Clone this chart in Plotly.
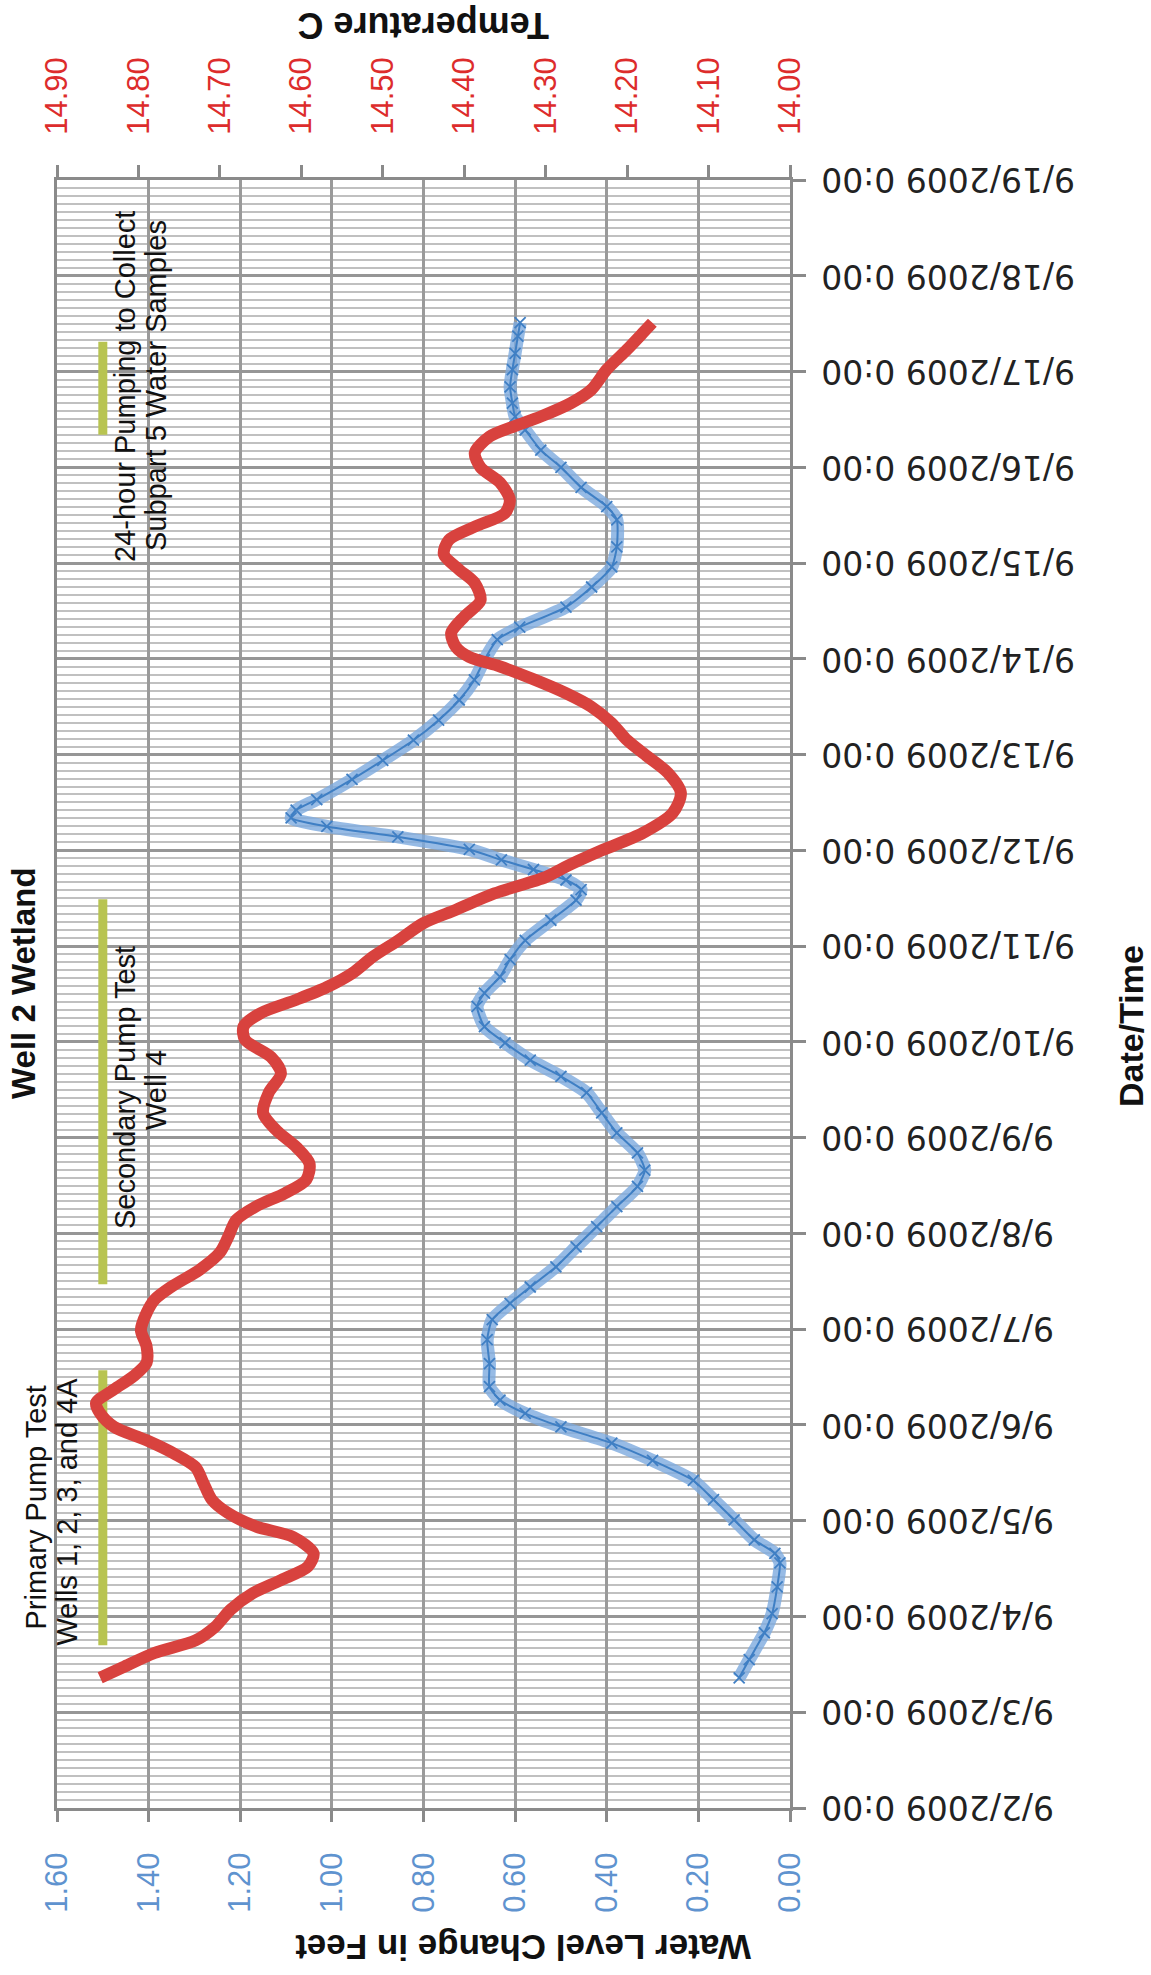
import plotly.graph_objects as go

# ---------------- data ----------------
temp_time = [
    "2009-09-03 08:38", "2009-09-03 11:17", "2009-09-03 14:53", "2009-09-03 18:00", "2009-09-03 21:22",
    "2009-09-04 01:41", "2009-09-04 05:46", "2009-09-04 09:07", "2009-09-04 12:29", "2009-09-04 15:50",
    "2009-09-04 19:55", "2009-09-04 22:34", "2009-09-05 01:55", "2009-09-05 05:17", "2009-09-05 09:22",
    "2009-09-05 13:26", "2009-09-05 16:48", "2009-09-05 20:10", "2009-09-05 23:31", "2009-09-06 02:53",
    "2009-09-06 05:31", "2009-09-06 08:53", "2009-09-06 12:14", "2009-09-06 15:36", "2009-09-06 19:41",
    "2009-09-06 23:46", "2009-09-07 04:05", "2009-09-07 07:26", "2009-09-07 10:34", "2009-09-07 14:53",
    "2009-09-07 19:12", "2009-09-07 23:02", "2009-09-08 03:22", "2009-09-08 06:43", "2009-09-08 10:05",
    "2009-09-08 13:26", "2009-09-08 17:31", "2009-09-08 21:36", "2009-09-09 01:55", "2009-09-09 06:14",
    "2009-09-09 11:17", "2009-09-09 16:05", "2009-09-09 20:10", "2009-09-10 00:29", "2009-09-10 03:50",
    "2009-09-10 07:12", "2009-09-10 10:34", "2009-09-10 13:41", "2009-09-10 17:17", "2009-09-10 21:22",
    "2009-09-11 01:26", "2009-09-11 05:46", "2009-09-11 09:07", "2009-09-11 13:12", "2009-09-11 17:17",
    "2009-09-11 19:55", "2009-09-12 00:00", "2009-09-12 04:19", "2009-09-12 09:22", "2009-09-12 14:24",
    "2009-09-12 19:26", "2009-09-12 23:31", "2009-09-13 03:36", "2009-09-13 07:55", "2009-09-13 12:00",
    "2009-09-13 15:22", "2009-09-13 18:43", "2009-09-13 22:05", "2009-09-14 00:29", "2009-09-14 02:53",
    "2009-09-14 06:29", "2009-09-14 10:34", "2009-09-14 14:38", "2009-09-14 18:58", "2009-09-14 22:19",
    "2009-09-15 02:10", "2009-09-15 05:46", "2009-09-15 09:07", "2009-09-15 12:29", "2009-09-15 15:50",
    "2009-09-15 20:10", "2009-09-16 00:00", "2009-09-16 03:36", "2009-09-16 07:41", "2009-09-16 10:19",
    "2009-09-16 12:43", "2009-09-16 16:05", "2009-09-16 19:26", "2009-09-17 00:29", "2009-09-17 05:31",
    "2009-09-17 09:36", "2009-09-17 12:14",
]
temp_vals = [
    14.847, 14.819, 14.780, 14.730, 14.706,
    14.687, 14.660, 14.625, 14.592, 14.585,
    14.610, 14.656, 14.690, 14.710, 14.720,
    14.730, 14.756, 14.790, 14.830, 14.847,
    14.852, 14.830, 14.806, 14.790, 14.790,
    14.797, 14.790, 14.780, 14.760, 14.725,
    14.700, 14.690, 14.680, 14.656, 14.620,
    14.594, 14.590, 14.606, 14.631, 14.647,
    14.640, 14.625, 14.637, 14.669, 14.671,
    14.650, 14.606, 14.569, 14.537, 14.512,
    14.481, 14.450, 14.410, 14.363, 14.300,
    14.275, 14.231, 14.181, 14.144, 14.134,
    14.150, 14.175, 14.200, 14.219, 14.244,
    14.275, 14.313, 14.356, 14.394, 14.410,
    14.416, 14.400, 14.380, 14.387, 14.406,
    14.425, 14.419, 14.387, 14.350, 14.344,
    14.356, 14.380, 14.387, 14.369, 14.338,
    14.306, 14.269, 14.244, 14.225, 14.200,
    14.181, 14.169,
]

level_time = [
    "2009-09-03 08:38", "2009-09-03 13:12", "2009-09-03 19:55", "2009-09-04 00:43", "2009-09-04 07:26",
    "2009-09-04 13:26", "2009-09-04 15:50", "2009-09-04 19:12", "2009-09-05 00:14", "2009-09-05 05:17",
    "2009-09-05 10:05", "2009-09-05 15:07", "2009-09-05 19:26", "2009-09-05 23:31", "2009-09-06 02:53",
    "2009-09-06 06:14", "2009-09-06 09:36", "2009-09-06 15:22", "2009-09-06 21:22", "2009-09-07 02:24",
    "2009-09-07 06:29", "2009-09-07 10:34", "2009-09-07 15:36", "2009-09-07 20:38", "2009-09-08 01:41",
    "2009-09-08 06:43", "2009-09-08 11:46", "2009-09-08 15:50", "2009-09-08 20:10", "2009-09-09 01:12",
    "2009-09-09 06:14", "2009-09-09 11:17", "2009-09-09 15:22", "2009-09-09 19:26", "2009-09-09 23:46",
    "2009-09-10 03:50", "2009-09-10 08:53", "2009-09-10 12:14", "2009-09-10 16:19", "2009-09-10 20:38",
    "2009-09-11 01:26", "2009-09-11 06:29", "2009-09-11 11:31", "2009-09-11 14:10", "2009-09-11 16:34",
    "2009-09-11 19:12", "2009-09-11 21:36", "2009-09-12 00:14", "2009-09-12 03:22", "2009-09-12 06:00",
    "2009-09-12 08:10", "2009-09-12 10:05", "2009-09-12 12:43", "2009-09-12 17:46", "2009-09-12 22:34",
    "2009-09-13 03:36", "2009-09-13 08:38", "2009-09-13 13:41", "2009-09-13 18:43", "2009-09-13 23:46",
    "2009-09-14 04:48", "2009-09-14 07:55", "2009-09-14 12:58", "2009-09-14 18:00", "2009-09-14 23:02",
    "2009-09-15 04:05", "2009-09-15 10:48", "2009-09-15 14:10", "2009-09-15 18:58", "2009-09-16 00:00",
    "2009-09-16 04:19", "2009-09-16 09:22", "2009-09-16 12:43", "2009-09-16 16:05", "2009-09-16 20:10",
    "2009-09-17 00:29", "2009-09-17 04:34", "2009-09-17 08:53", "2009-09-17 12:14",
]
level_vals = [
    0.111, 0.089, 0.056, 0.039, 0.028,
    0.022, 0.033, 0.078, 0.122, 0.167,
    0.211, 0.300, 0.389, 0.500, 0.578,
    0.633, 0.656, 0.656, 0.661, 0.650,
    0.611, 0.567, 0.511, 0.467, 0.422,
    0.378, 0.333, 0.317, 0.333, 0.378,
    0.411, 0.444, 0.500, 0.567, 0.622,
    0.667, 0.683, 0.667, 0.633, 0.611,
    0.578, 0.522, 0.467, 0.456, 0.489,
    0.560, 0.630, 0.700, 0.856, 1.011,
    1.089, 1.078, 1.033, 0.956, 0.889,
    0.822, 0.767, 0.722, 0.689, 0.667,
    0.639, 0.590, 0.489, 0.433, 0.389,
    0.378, 0.378, 0.400, 0.456, 0.500,
    0.544, 0.578, 0.600, 0.606, 0.611,
    0.606, 0.600, 0.594, 0.589,
]

event_start = ["2009-09-03 16:48", "2009-09-07 11:17", "2009-09-16 08:10"]
event_end = ["2009-09-06 13:41", "2009-09-11 11:46", "2009-09-17 07:26"]
event_level = 1.5
event_line1 = ["Primary Pump Test", "Secondary Pump Test", "24-hour Pumping to Collect"]
event_line2 = ["Wells 1, 2, 3, and 4A", "Well 4", "Subpart 5 Water Samples"]

level_ticks = [1.6, 1.4, 1.2, 1.0, 0.8, 0.6, 0.4, 0.2, 0.0]
temp_ticks = [14.9, 14.8, 14.7, 14.6, 14.5, 14.4, 14.3, 14.2, 14.1, 14.0]
date_ticks = [
    "2009-09-02", "2009-09-03", "2009-09-04", "2009-09-05", "2009-09-06", "2009-09-07",
    "2009-09-08", "2009-09-09", "2009-09-10", "2009-09-11", "2009-09-12", "2009-09-13",
    "2009-09-14", "2009-09-15", "2009-09-16", "2009-09-17", "2009-09-18", "2009-09-19",
]
date_labels = [
    "9/2/2009 0:00", "9/3/2009 0:00", "9/4/2009 0:00", "9/5/2009 0:00", "9/6/2009 0:00",
    "9/7/2009 0:00", "9/8/2009 0:00", "9/9/2009 0:00", "9/10/2009 0:00", "9/11/2009 0:00",
    "9/12/2009 0:00", "9/13/2009 0:00", "9/14/2009 0:00", "9/15/2009 0:00", "9/16/2009 0:00",
    "9/17/2009 0:00", "9/18/2009 0:00", "9/19/2009 0:00",
]

# ---------------- layout geometry (pixels) ----------------
W, H = 1151, 1975
PL, PR, PT, PB = 57, 790, 180, 1808


def px(x):
    return (x - PL) / (PR - PL)


def py(y):
    return (PB - y) / (PB - PT)


ARIAL = "Arial, Liberation Sans, sans-serif"
VERD = "Verdana, DejaVu Sans, sans-serif"
GRID = "#9a9a9a"

fig = go.Figure()

# event bars
for s, e in zip(event_start, event_end):
    fig.add_trace(go.Scatter(
        x=[event_level, event_level], y=[s, e], mode="lines",
        line=dict(color="#B8C451", width=9), xaxis="x", yaxis="y",
        hoverinfo="skip", showlegend=False))

# water level band + line with x markers
fig.add_trace(go.Scatter(
    x=level_vals, y=level_time, mode="lines",
    line=dict(color="rgba(125,170,222,0.8)", width=13, shape="spline", smoothing=0.6),
    xaxis="x", yaxis="y", showlegend=False, hoverinfo="skip"))
fig.add_trace(go.Scatter(
    x=level_vals, y=level_time, mode="lines+markers",
    line=dict(color="#3F7FC4", width=2, shape="spline", smoothing=0.6),
    marker=dict(symbol="x-thin", size=11, line=dict(color="#3F7FC4", width=1.8)),
    xaxis="x", yaxis="y", showlegend=False, name="Water Level"))

# temperature
fig.add_trace(go.Scatter(
    x=temp_vals, y=temp_time, mode="lines",
    line=dict(color="#D8423E", width=12, shape="spline", smoothing=0.8),
    xaxis="x2", yaxis="y", showlegend=False, name="Temperature"))

fig.update_layout(
    width=W, height=H,
    margin=dict(l=PL, r=W - PR, t=PT, b=H - PB, pad=0),
    paper_bgcolor="white", plot_bgcolor="white",
    showlegend=False,
    xaxis=dict(
        range=[1.6, 0.0], tickvals=level_ticks, tickformat=".2f",
        tickangle=-90, ticks="outside", ticklen=11, tickwidth=2.5, tickcolor="#8a8a8a",
        ticklabelstandoff=18,
        tickfont=dict(family=ARIAL, size=31, color="#5F93CF"),
        showgrid=True, gridcolor=GRID, gridwidth=2.5,
        showline=True, linecolor="#8a8a8a", linewidth=3,
        zeroline=False, fixedrange=True,
    ),
    xaxis2=dict(
        range=[14.9, 14.0], tickvals=temp_ticks, tickformat=".2f",
        overlaying="x", side="top", anchor="y",
        tickangle=-90, ticks="outside", ticklen=12, tickwidth=2.5, tickcolor="#8a8a8a",
        ticklabelstandoff=24,
        tickfont=dict(family=ARIAL, size=31, color="#DD2C2C"),
        showgrid=False, showline=True, linecolor="#8a8a8a", linewidth=3,
        zeroline=False, fixedrange=True,
    ),
    yaxis=dict(
        type="date", range=["2009-09-02", "2009-09-19"],
        tickvals=date_ticks, showticklabels=False,
        side="right", ticks="outside", ticklen=13, tickwidth=2.5,
        tickcolor="#8a8a8a",
        showgrid=True, gridcolor="#969696", gridwidth=3,
        minor=dict(dtick=7200000, tick0="2009-09-02", showgrid=True,
                   gridcolor="#c0c0c0", gridwidth=2.4, ticks=""),
        showline=True, linecolor="#8a8a8a", linewidth=3, mirror=True,
        zeroline=False, fixedrange=True,
    ),
)

ann = []
# date tick labels (upside down, as in the rotated original)
for d, lab in zip(date_ticks, date_labels):
    ann.append(dict(text=lab, x=px(819), y=d, xref="paper", yref="y",
                    xanchor="left", yanchor="middle", textangle=180,
                    font=dict(family=VERD, size=33, color="#222222")))
# titles
ann.append(dict(text="<b>Well 2 Wetland</b>", x=px(24), y=py(983), textangle=-90,
                font=dict(family=ARIAL, size=33, color="#111111")))
ann.append(dict(text="<b>Date/Time</b>", x=px(1131), y=py(1026), textangle=-90,
                font=dict(family=ARIAL, size=34, color="#111111")))
ann.append(dict(text="<b>Temperature C</b>", x=px(424), y=py(25), textangle=180,
                font=dict(family=ARIAL, size=36, color="#111111")))
ann.append(dict(text="<b>Water Level Change in Feet</b>", x=px(523), y=py(1948), textangle=180,
                font=dict(family=ARIAL, size=35, color="#111111")))

# event labels
l1_pos = [(35.5, 1508), (125, 1088), (125, 387)]
l2_pos = [(66.5, 1512), (156, 1090), (156, 386)]
for t, (x, y) in zip(event_line1, l1_pos):
    ann.append(dict(text=t, x=px(x), y=py(y), textangle=-90,
                    font=dict(family=ARIAL, size=29, color="#111111")))
for t, (x, y) in zip(event_line2, l2_pos):
    ann.append(dict(text=t, x=px(x), y=py(y), textangle=-90,
                    font=dict(family=ARIAL, size=29, color="#111111")))

for a in ann:
    a.setdefault("xref", "paper")
    a.setdefault("yref", "paper")
    a.setdefault("xanchor", "center")
    a.setdefault("yanchor", "middle")
    a["showarrow"] = False
fig.update_layout(annotations=ann)

fig.write_html("out.html")
